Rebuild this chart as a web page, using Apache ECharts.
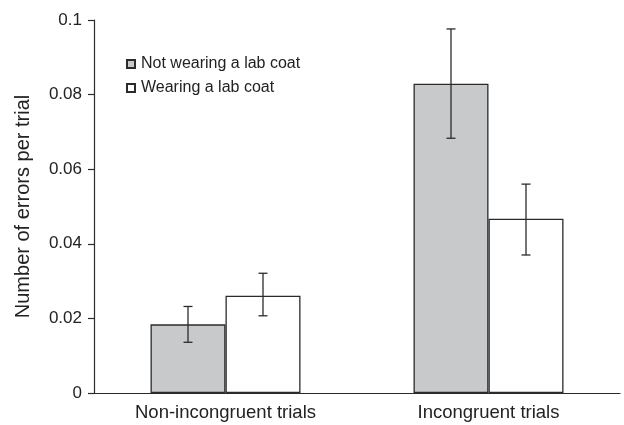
<!DOCTYPE html>
<html>
<head>
<meta charset="utf-8">
<script src="https://cdn.jsdelivr.net/npm/echarts@6/dist/echarts.min.js"></script>
<style>
  html, body { margin: 0; padding: 0; background: #fff; }
  #chart { width: 624px; height: 425px; }
</style>
</head>
<body>
<div id="chart"></div>
<script>
// data
const categories = ['Non-incongruent trials', 'Incongruent trials']
const seriesNames = ['Not wearing a lab coat', 'Wearing a lab coat']
const notWearing = [0.0184, 0.0829]
const notWearingLow = [0.0136, 0.0683]
const notWearingHigh = [0.0232, 0.0976]
const wearing = [0.0261, 0.0467]
const wearingLow = [0.0207, 0.0370]
const wearingHigh = [0.0321, 0.0560]

const FONT = 'Liberation Sans, Arial, sans-serif'
const INK = '#2b2b2b'
const BAR_W = 75

const chart = echarts.init(document.getElementById('chart'))

// error bars drawn as custom series, shifted by half a bar width
const errorSeries = (low, high, side) => ({
  type: 'custom',
  silent: true,
  z: 10,
  data: low.map((l, i) => [i, l, high[i]]),
  renderItem: (params, api) => {
    const lo = api.coord([api.value(0), api.value(1)])
    const hi = api.coord([api.value(0), api.value(2)])
    const x = lo[0] + side * BAR_W / 2
    const cap = 4.5
    const style = { stroke: INK, lineWidth: 1.3 }
    return {
      type: 'group',
      children: [
        { type: 'line', shape: { x1: x, y1: lo[1], x2: x, y2: hi[1] }, style },
        { type: 'line', shape: { x1: x - cap, y1: lo[1], x2: x + cap, y2: lo[1] }, style },
        { type: 'line', shape: { x1: x - cap, y1: hi[1], x2: x + cap, y2: hi[1] }, style }
      ]
    }
  }
})

const option = {
  animation: false,
  textStyle: { fontFamily: FONT },
  grid: { left: 94, right: 4, top: 20, bottom: 32 },
  legend: {
    orient: 'vertical',
    left: 121,
    top: 51,
    itemWidth: 8,
    itemHeight: 8,
    itemGap: 8,
    icon: 'rect',
    textStyle: { fontFamily: FONT, fontSize: 16, color: '#222', padding: [0, 0, 0, 1] },
    data: seriesNames
  },
  xAxis: {
    type: 'category',
    data: categories,
    axisLine: { lineStyle: { color: INK, width: 1.2 } },
    axisTick: { length: 6, lineStyle: { color: INK, width: 1.2 } },
    axisLabel: { color: '#222', fontSize: 18.5, margin: 10, fontFamily: FONT }
  },
  yAxis: {
    type: 'value',
    min: 0,
    max: 0.1,
    interval: 0.02,
    name: 'Number of errors per trial',
    nameLocation: 'middle',
    nameGap: 61,
    nameTextStyle: { fontSize: 20, color: '#222', fontFamily: FONT },
    axisLine: { show: true, lineStyle: { color: INK, width: 1.2 } },
    axisTick: { show: true, length: 6, lineStyle: { color: INK, width: 1.2 } },
    axisLabel: { color: '#222', fontSize: 17, margin: 12, fontFamily: FONT },
    splitLine: { show: false }
  },
  series: [
    {
      name: seriesNames[0],
      type: 'bar',
      data: notWearing,
      barWidth: BAR_W,
      barGap: '0%',
      itemStyle: { color: '#c8c9cb', borderColor: INK, borderWidth: 1.3 }
    },
    {
      name: seriesNames[1],
      type: 'bar',
      data: wearing,
      barWidth: BAR_W,
      barGap: '0%',
      itemStyle: { color: '#ffffff', borderColor: INK, borderWidth: 1.3 }
    },
    errorSeries(notWearingLow, notWearingHigh, -1),
    errorSeries(wearingLow, wearingHigh, 1)
  ]
}

chart.setOption(option)
</script>
</body>
</html>
